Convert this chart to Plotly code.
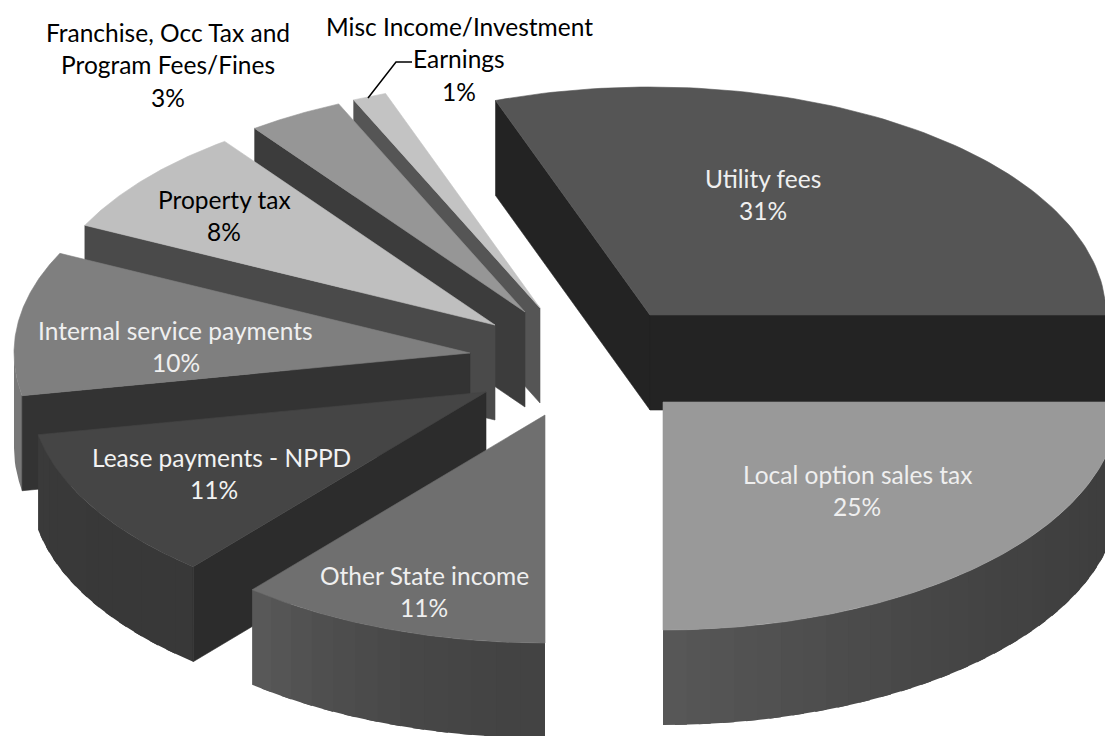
import numpy as np
import plotly.graph_objects as go

# ---- data (clockwise from the 3 o'clock edge of the pie) ----
categories = ["Local option sales tax", "Other State income", "Lease payments - NPPD",
              "Internal service payments", "Property tax",
              "Franchise, Occ Tax and Program Fees/Fines",
              "Misc Income/Investment Earnings", "Utility fees"]
values = [25.0, 11.1, 10.9, 10.2, 7.7, 3.4, 1.2, 30.5]
percent_labels = ["25%", "11%", "11%", "10%", "8%", "3%", "1%", "31%"]

# ---- styling / layout ----
START_CLOCK = 90.0          # first slice starts at 3 o'clock
RX, RY, DEPTH = 456, 228, 95
apex_x = [663, 545, 486, 470, 495, 525, 540, 650]
apex_y = [402, 415, 392, 353, 325, 312, 308, 315]
top_grey = [0x99, 0x6f, 0x45, 0x7f, 0xbf, 0x96, 0xc3, 0x55]
side_grey = [0x3c, 0x44, 0x2c, 0x33, 0x4a, 0x3c, 0x55, 0x23]
arc_grey_a = [0x3d, 0x43, 0x38, 0x78, 0x4a, 0x3c, 0x55, 0x23]
arc_grey_b = [0x58, 0x5a, 0x3a, 0x78, 0x4a, 0x3c, 0x55, 0x23]
draw_order = [7, 6, 5, 4, 3, 2, 1, 0]

label_lines = [["Local option sales tax"], ["Other State income"], ["Lease payments - NPPD"],
               ["Internal service payments"], ["Property tax"],
               ["Franchise, Occ Tax and", "Program Fees/Fines"],
               ["Misc Income/Investment", "Earnings"], ["Utility fees"]]
label_x = [857, 424, 221, 175, 224, 168, 459, 763]
pct_x = [857, 424, 214, 176, 224, 168, 459, 763]
label_y = [474, 575, 457, 330, 199, 32, 26, 178]
label_color = ["#efefef", "#efefef", "#f2f2f2", "#efefef", "#000000", "#000000", "#000000", "#efefef"]
LINE_GAP = 32.5
FONT = "Lato"
FONT_SIZE = 24.5


def grey(v):
    v = int(round(v))
    return f"rgb({v},{v},{v})"


def point(i, clock):
    a = np.radians(clock)
    return apex_x[i] + RX * np.sin(a), apex_y[i] - RY * np.cos(a)


def poly(fig, xs, ys, color, outline=True):
    fig.add_trace(go.Scatter(x=list(xs), y=list(ys), mode="lines", fill="toself",
                             fillcolor=color,
                             line=dict(color=color, width=0.6 if outline else 0),
                             hoverinfo="skip", showlegend=False))


def wall(fig, x0, y0, x1, y1, color):
    poly(fig, [x0, x1, x1, x0, x0], [y0, y1, y1 + DEPTH, y0 + DEPTH, y0], color)


fractions = np.array(values) / sum(values)
edges = START_CLOCK + 360 * np.concatenate([[0], np.cumsum(fractions)])

fig = go.Figure()
for i in draw_order:
    a, b = edges[i], edges[i + 1]
    ax, ay = apex_x[i], apex_y[i]
    # outer rim wall: only the part facing the viewer (clock 90..270)
    lo, hi = max(a, 90), min(b, 270)
    if hi > lo:
        # bands overlap their neighbour so no seams show between them
        n = 1 if arc_grey_a[i] == arc_grey_b[i] else max(2, int((hi - lo) / 3))
        cuts = np.linspace(lo, hi, n + 1)
        for k in range(n):
            t = ((cuts[k] + cuts[k + 1]) / 2 - lo) / (hi - lo)
            g = arc_grey_a[i] + (arc_grey_b[i] - arc_grey_a[i]) * t ** 2
            arc = np.linspace(cuts[k], min(cuts[k + 1] + 1.5, hi), 10)
            px, py = point(i, arc)
            poly(fig, np.r_[px, px[::-1], px[0]], np.r_[py, py[::-1] + DEPTH, py[0]], grey(g),
                 outline=False)
    # radial walls: visible when they face the viewer
    if np.sin(np.radians(a)) < -1e-6:
        x1, y1 = point(i, a)
        wall(fig, x1, y1, ax, ay, grey(side_grey[i]))
    if np.sin(np.radians(b)) > 1e-6:
        x1, y1 = point(i, b)
        wall(fig, ax, ay, x1, y1, grey(side_grey[i]))
    # top face
    arc = np.linspace(a, b, 90)
    px, py = point(i, arc)
    poly(fig, np.r_[ax, px, ax], np.r_[ay, py, ay], grey(top_grey[i]))

# leader line for the smallest slice
fig.add_trace(go.Scatter(x=[412, 396, 368], y=[62, 62, 98], mode="lines",
                         line=dict(color="#000000", width=1.5),
                         hoverinfo="skip", showlegend=False))

for i in range(len(categories)):
    lines = label_lines[i] + [percent_labels[i]]
    for k, txt in enumerate(lines):
        fig.add_annotation(x=pct_x[i] if k == len(lines) - 1 else label_x[i],
                           y=label_y[i] + k * LINE_GAP, text=txt, showarrow=False,
                           xanchor="center", yanchor="middle",
                           font=dict(family=FONT, size=FONT_SIZE, color=label_color[i]))

fig.update_layout(width=1105, height=736, margin=dict(l=0, r=0, t=0, b=0),
                  paper_bgcolor="#ffffff", plot_bgcolor="#ffffff", showlegend=False,
                  xaxis=dict(range=[0, 1105], visible=False, fixedrange=True),
                  yaxis=dict(range=[736, 0], visible=False, fixedrange=True))
fig.write_html("out.html", config={"displayModeBar": False},
               post_script="document.body.style.margin='0';")
